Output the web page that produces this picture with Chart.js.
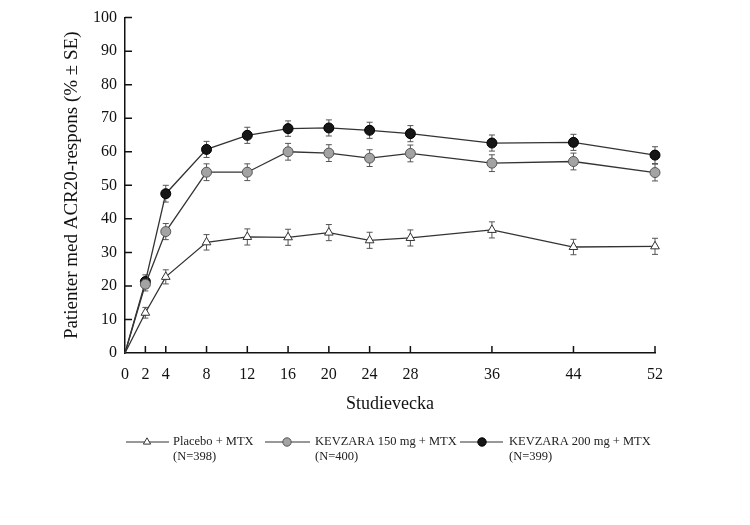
<!DOCTYPE html>
<html>
<head>
<meta charset="utf-8">
<script src="https://cdn.jsdelivr.net/npm/chart.js@4.4.1/dist/chart.umd.min.js"></script>
<style>
  html, body { margin: 0; padding: 0; background: #fff; }
  #wrap { width: 750px; height: 525px; position: relative; }
</style>
</head>
<body>
<div id="wrap"><canvas id="chart"></canvas></div>
<script>
// Study weeks on the x axis
const weeks = [0, 2, 4, 8, 12, 16, 20, 24, 28, 36, 44, 52];

// ACR20 response (%)
const placebo = [0, 12.0, 22.7, 33.0, 34.6, 34.5, 35.9, 33.6, 34.3, 36.7, 31.6, 31.8];
const kev150 = [0, 20.5, 36.2, 53.9, 53.9, 60.0, 59.6, 58.1, 59.5, 56.6, 57.1, 53.8];
const kev200 = [0, 21.3, 47.5, 60.7, 64.9, 66.9, 67.1, 66.4, 65.4, 62.6, 62.8, 59.0];

// standard errors (half length of the error bars)
const placeboSE = [0, 1.6, 2.1, 2.3, 2.4, 2.4, 2.4, 2.4, 2.4, 2.4, 2.3, 2.4];
const kev150SE = [0, 2.0, 2.4, 2.5, 2.5, 2.5, 2.5, 2.5, 2.5, 2.5, 2.5, 2.5];
const kev200SE = [0, 2.0, 2.5, 2.4, 2.4, 2.3, 2.4, 2.4, 2.4, 2.4, 2.4, 2.5];

const legendLines = [
    ['Placebo + MTX', '(N=398)'],
    ['KEVZARA 150 mg + MTX', '(N=400)'],
    ['KEVZARA 200 mg + MTX', '(N=399)']
];

const yTicks = [0, 10, 20, 30, 40, 50, 60, 70, 80, 90, 100];

const serif = '"Liberation Serif", "Times New Roman", serif';
Chart.defaults.font.family = serif;
Chart.defaults.color = '#111';

function points(vals) {
    return weeks.map((w, i) => ({ x: w, y: vals[i] }));
}

// no marker at the origin
const radii = weeks.map((w, i) => i === 0 ? 0 : 5);

// error bars, drawn under the markers
const errorBars = {
    id: 'errorBars',
    beforeDatasetsDraw(chart) {
        const ctx = chart.ctx;
        const yScale = chart.scales.y;
        ctx.save();
        ctx.strokeStyle = '#555';
        ctx.lineWidth = 1;
        chart.data.datasets.forEach((ds, di) => {
            const meta = chart.getDatasetMeta(di);
            meta.data.forEach((pt, i) => {
                const se = ds.se[i];
                if (!se) return;
                const v = ds.data[i].y;
                const top = yScale.getPixelForValue(v + se);
                const bot = yScale.getPixelForValue(v - se);
                ctx.beginPath();
                ctx.moveTo(pt.x, top);
                ctx.lineTo(pt.x, bot);
                ctx.moveTo(pt.x - 3, top);
                ctx.lineTo(pt.x + 3, top);
                ctx.moveTo(pt.x - 3, bot);
                ctx.lineTo(pt.x + 3, bot);
                ctx.stroke();
            });
        });
        ctx.restore();
    }
};

// tick marks pointing into the plot area
const innerTicks = {
    id: 'innerTicks',
    afterDraw(chart) {
        const ctx = chart.ctx;
        const { x, y } = chart.scales;
        const area = chart.chartArea;
        ctx.save();
        ctx.strokeStyle = '#111';
        ctx.lineWidth = 1.5;
        ctx.beginPath();
        x.ticks.forEach(t => {
            if (t.value === 0) return;
            const px = x.getPixelForValue(t.value);
            ctx.moveTo(px, area.bottom);
            ctx.lineTo(px, area.bottom - 7);
        });
        y.ticks.forEach(t => {
            if (t.value === 0) return;
            const py = y.getPixelForValue(t.value);
            ctx.moveTo(area.left, py);
            ctx.lineTo(area.left + 7, py);
        });
        ctx.stroke();
        ctx.restore();
    }
};

// legend below the axis title, two text lines per entry
const bottomLegend = {
    id: 'bottomLegend',
    afterDraw(chart, args, opts) {
        const ctx = chart.ctx;
        ctx.save();
        ctx.font = '12.5px ' + serif;
        ctx.textBaseline = 'middle';
        ctx.textAlign = 'left';
        opts.items.forEach((it, i) => {
            const ds = chart.data.datasets[i];
            ctx.strokeStyle = ds.borderColor;
            ctx.lineWidth = 1.2;
            ctx.beginPath();
            ctx.moveTo(it.x0, opts.y);
            ctx.lineTo(it.x1, opts.y);
            ctx.stroke();
            ctx.fillStyle = ds.pointBackgroundColor;
            ctx.strokeStyle = ds.pointBorderColor;
            ctx.lineWidth = 1;
            Chart.helpers.drawPoint(ctx, {
                pointStyle: ds.pointStyle, radius: 4.2, rotation: 0, borderWidth: 1
            }, it.m, opts.y);
            ctx.fillStyle = '#222';
            ctx.fillText(legendLines[i][0], it.t, opts.y);
            ctx.fillText(legendLines[i][1], it.t, opts.y + 15);
        });
        ctx.restore();
    }
};

new Chart(document.getElementById('chart'), {
    type: 'line',
    data: {
        datasets: [
            {
                label: legendLines[0][0],
                data: points(placebo),
                se: placeboSE,
                clip: false,
                borderColor: '#333',
                borderWidth: 1.3,
                pointStyle: 'triangle',
                pointRadius: radii,
                pointBackgroundColor: '#fff',
                pointBorderColor: '#333',
                pointBorderWidth: 1
            },
            {
                label: legendLines[1][0],
                data: points(kev150),
                se: kev150SE,
                clip: false,
                borderColor: '#333',
                borderWidth: 1.3,
                pointStyle: 'circle',
                pointRadius: radii,
                pointBackgroundColor: '#a3a3a3',
                pointBorderColor: '#555',
                pointBorderWidth: 1
            },
            {
                label: legendLines[2][0],
                data: points(kev200),
                se: kev200SE,
                clip: false,
                borderColor: '#333',
                borderWidth: 1.3,
                pointStyle: 'circle',
                pointRadius: radii,
                pointBackgroundColor: '#161616',
                pointBorderColor: '#000',
                pointBorderWidth: 1
            }
        ]
    },
    options: {
        responsive: true,
        maintainAspectRatio: false,
        animation: false,
        layout: { padding: { left: 0, right: 95, top: 15, bottom: 0 } },
        plugins: {
            legend: { display: false },
            tooltip: { enabled: false },
            bottomLegend: {
                y: 442,
                items: [
                    { x0: 126, x1: 169, m: 147, t: 173 },
                    { x0: 265, x1: 310, m: 287, t: 315 },
                    { x0: 460, x1: 503, m: 482, t: 509 }
                ]
            }
        },
        scales: {
            x: {
                type: 'linear',
                min: 0,
                max: 52,
                afterBuildTicks: s => { s.ticks = weeks.map(v => ({ value: v })); },
                afterFit: s => { s.height = 172; },
                grid: { display: false, drawTicks: false },
                border: { display: true, color: '#111', width: 1.5 },
                ticks: { padding: 12, font: { size: 16 }, color: '#111', maxRotation: 0, autoSkip: false },
                title: {
                    display: true,
                    text: 'Studievecka',
                    font: { size: 18 },
                    color: '#111',
                    padding: { top: 0, bottom: 110 }
                }
            },
            y: {
                min: 0,
                max: 100,
                afterBuildTicks: s => { s.ticks = yTicks.map(v => ({ value: v })); },
                afterFit: s => { s.width = 125; },
                grid: { display: false, drawTicks: false },
                border: { display: true, color: '#111', width: 1.5 },
                ticks: { padding: 8, font: { size: 16 }, color: '#111' },
                title: {
                    display: true,
                    text: 'Patienter med ACR20-respons (% \u00b1 SE)',
                    font: { size: 19 },
                    color: '#111',
                    padding: { top: 61, bottom: 0 }
                }
            }
        }
    },
    plugins: [errorBars, innerTicks, bottomLegend]
});
</script>
</body>
</html>
